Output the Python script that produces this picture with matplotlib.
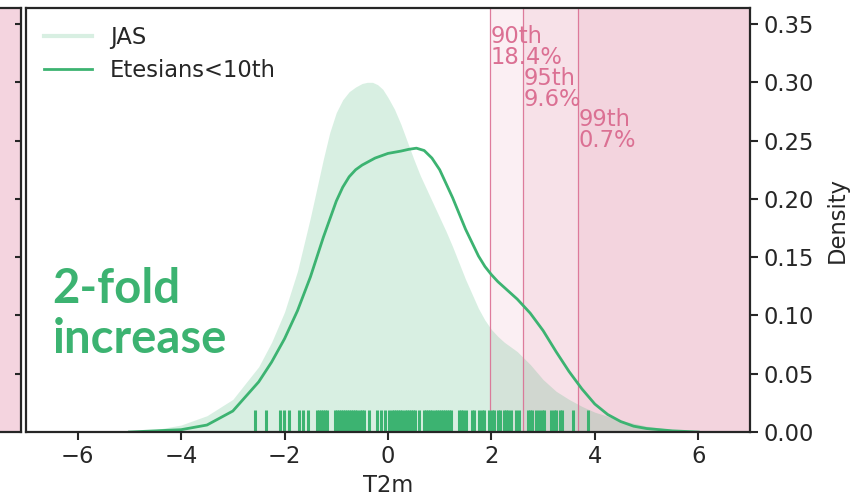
import numpy as np
from matplotlib import pyplot as plt

# density curves
jas_x = [-5.0, -4.5, -4.0, -3.5, -3.0, -2.5, -2.25, -2.0, -1.75, -1.5, -1.375, -1.25,
         -1.125, -1.0, -0.875, -0.75, -0.625, -0.5, -0.4, -0.3, -0.2, -0.1, 0.0, 0.125,
         0.25, 0.375, 0.5, 0.625, 0.75, 0.875, 1.0, 1.125, 1.25, 1.5, 1.75, 1.875, 2.0,
         2.125, 2.25, 2.5, 2.75, 3.0, 3.25, 3.5, 3.75, 4.0, 4.5, 5.0, 5.5, 6.0, 6.5]
jas_y = [0.0, 0.002, 0.006, 0.014, 0.028, 0.056, 0.077, 0.103, 0.138, 0.184, 0.209, 0.234,
         0.257, 0.274, 0.285, 0.292, 0.296, 0.299, 0.300, 0.300, 0.298, 0.294, 0.287, 0.277,
         0.264, 0.249, 0.234, 0.220, 0.208, 0.196, 0.184, 0.172, 0.159, 0.131, 0.106, 0.096,
         0.088, 0.082, 0.077, 0.069, 0.058, 0.045, 0.035, 0.028, 0.022, 0.017, 0.010, 0.005,
         0.002, 0.001, 0.0]

ete_x = [-5.0, -4.5, -4.0, -3.5, -3.0, -2.5, -2.25, -2.0, -1.75, -1.5, -1.25, -1.0,
         -0.875, -0.75, -0.625, -0.5, -0.25, 0.0, 0.25, 0.4, 0.55, 0.7, 0.85, 1.0, 1.25,
         1.5, 1.75, 1.875, 2.0, 2.125, 2.25, 2.5, 2.75, 3.0, 3.25, 3.5, 3.75, 4.0, 4.25,
         4.5, 4.75, 5.0, 5.5, 6.0]
ete_y = [0.0, 0.001, 0.002, 0.006, 0.018, 0.043, 0.060, 0.080, 0.104, 0.133, 0.167, 0.198,
         0.210, 0.219, 0.225, 0.229, 0.235, 0.239, 0.241, 0.2425, 0.2435, 0.2415, 0.235, 0.225,
         0.201, 0.174, 0.151, 0.142, 0.135, 0.129, 0.124, 0.114, 0.102, 0.087, 0.069, 0.052,
         0.037, 0.024, 0.015, 0.009, 0.005, 0.003, 0.001, 0.0]

# individual Etesians<10th days (rug)
ete_rug = [-2.57, -2.36, -2.08, -2.01, -1.92, -1.73, -1.65, -1.55,
           -1.37, -1.33, -1.29, -1.25, -1.21, -1.17,
           -1.03, -0.99, -0.95, -0.91, -0.87, -0.83, -0.79, -0.75, -0.71, -0.67,
           -0.63, -0.59, -0.55, -0.51, -0.47, -0.37, -0.21, -0.14, -0.05, 0.02,
           0.08, 0.12, 0.16, 0.20, 0.24, 0.28, 0.32, 0.36, 0.40, 0.44, 0.48, 0.52,
           0.60, 0.70, 0.74, 0.78, 0.82, 0.86, 0.90, 0.94, 0.98, 1.02, 1.06, 1.10,
           1.14, 1.18, 1.22, 1.38, 1.42, 1.46, 1.50, 1.62, 1.67, 1.77, 1.81, 1.85,
           1.96, 2.01, 2.05, 2.12, 2.17, 2.25, 2.29, 2.33, 2.37, 2.48, 2.53,
           2.70, 2.74, 2.79, 2.87, 2.92, 2.97, 3.02, 3.16, 3.21, 3.25, 3.32, 3.36,
           3.58, 3.87]

pct_names = ['90th', '95th', '99th']
pct_values = [1.98, 2.62, 3.67]
pct_share = ['18.4%', '9.6%', '0.7%']
pct_text_y = [0.349, 0.313, 0.278]

green = '#3cb371'
pink = '#db7093'
dark = '#262626'
fs = 16.3

plt.rcParams['font.family'] = 'DejaVu Sans'
plt.rcParams['font.size'] = fs

fig = plt.figure(figsize=(8.66, 4.98), dpi=100)

# neighbouring panel that is cut off at the left
ax0 = fig.add_axes([-0.3, 0.1325, 0.3243, 0.852])
ax0.set_facecolor('#f4d4df')
ax0.set_xticks([])
ax0.set_yticks([0.05, 0.10, 0.15, 0.20, 0.25, 0.30, 0.35])
ax0.set_ylim(0, 0.364)
ax0.tick_params(left=False, right=True, direction='in', labelleft=False,
                length=4, width=1.5, color=dark)
for s in ax0.spines.values():
    s.set_linewidth(1.6)
    s.set_color(dark)

ax = fig.add_axes([0.030, 0.1325, 0.836, 0.852])

for p in pct_values:
    ax.axvspan(p, 7.5, color=pink, alpha=0.11, lw=0)
    ax.axvline(p, color=pink, lw=0.9, alpha=0.9)

ax.fill_between(jas_x, jas_y, color=green, alpha=0.2, lw=0)
ax.plot(ete_x, ete_y, color=green, lw=2)
ax.vlines(ete_rug, 0, 0.052, transform=ax.get_xaxis_transform(), color=green, lw=2.2)

for name, p, share, ty in zip(pct_names, pct_values, pct_share, pct_text_y):
    ax.text(p + 0.01, ty, name + '\n' + share, color=pink, fontsize=fs,
            ha='left', va='top', linespacing=0.88)

ax.text(-6.49, 0.1106, '2-fold', color=green, fontsize=34,
        fontweight='bold', family='Lato', ha='left', va='baseline')
ax.text(-6.49, 0.0678, 'increase', color=green, fontsize=34,
        fontweight='bold', family='Lato', ha='left', va='baseline')

h1, = ax.plot([], [], color=green, alpha=0.2, lw=3, label='JAS')
h2, = ax.plot([], [], color=green, lw=2, label='Etesians<10th')
ax.legend(handles=[h1, h2], loc='upper left', frameon=False, handlelength=2.1,
          labelspacing=0.45, fontsize=fs, labelcolor=dark, borderaxespad=0.4)

ax.set_xlim(-7, 7)
ax.set_ylim(0, 0.364)
ax.set_xticks([-6, -4, -2, 0, 2, 4, 6])
ax.set_yticks([0.0, 0.05, 0.10, 0.15, 0.20, 0.25, 0.30, 0.35])
ax.set_yticklabels(['0.00', '0.05', '0.10', '0.15', '0.20', '0.25', '0.30', '0.35'])
ax.yaxis.tick_right()
ax.yaxis.set_label_position('right')
ax.tick_params(length=6, width=1.5, color=dark, labelcolor=dark, labelsize=fs)
ax.set_xlabel('T2m', color=dark, fontsize=fs, labelpad=4)
ax.set_ylabel('Density', color=dark, fontsize=fs, labelpad=9)
for s in ax.spines.values():
    s.set_linewidth(1.6)
    s.set_color(dark)

plt.savefig('out.png', dpi=100)
